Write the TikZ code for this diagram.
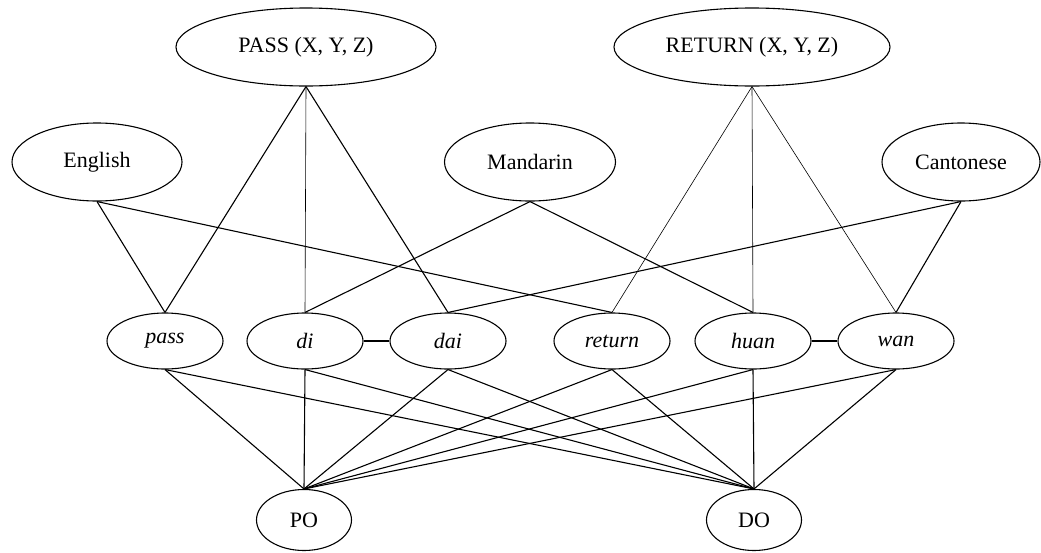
\documentclass[tikz,border=0pt]{standalone}
\usepackage{fontspec}
\setmainfont{Liberation Serif}
\usetikzlibrary{shapes.geometric}
\begin{document}
\begin{tikzpicture}[x=1pt,y=-1pt,
  ell/.style={draw, ellipse, inner sep=0pt, line width=1.1pt, font=\fontsize{22}{26}\selectfont},
  top/.style={ell, minimum height=78pt},
  lang/.style={ell, minimum height=78pt},
  wrd/.style={ell, minimum width=116pt, minimum height=56pt, font=\fontsize{22}{26}\selectfont\itshape},
  gram/.style={ell, minimum width=95pt, minimum height=61pt},
  conn/.style={line width=1.1pt},
  thinconn/.style={line width=0.6pt}]
\useasboundingbox (0,0) rectangle (1041,552);
% top predicates
\node[top, minimum width=260pt] (PASS) at (306,47) {PASS (X, Y, Z)};
\node[top, minimum width=276pt] (RET) at (752,47) {RETURN (X, Y, Z)};
% languages
\node[lang, minimum width=170pt] (Eng) at (97,162) {English};
\node[lang, minimum width=171pt] (Man) at (530,162) {Mandarin};
\node[lang, minimum width=158pt] (Can) at (961,162) {Cantonese};
% words
\node[wrd] (pass) at (165,341) {pass};
\node[wrd] (di) at (305,341) {di};
\node[wrd] (dai) at (448,341) {dai};
\node[wrd] (return) at (612,341) {return};
\node[wrd] (huan) at (753,341) {huan};
\node[wrd] (wan) at (896,341) {wan};
% constructions
\node[gram] (PO) at (304,520) {PO};
\node[gram] (DO) at (754,520) {DO};
% predicate links
\draw[conn] (PASS.south) -- (pass.north);
\draw[thinconn] (PASS.south) -- (di.north);
\draw[conn] (PASS.south) -- (dai.north);
\draw[thinconn] (RET.south) -- (return.north);
\draw[thinconn] (RET.south) -- (huan.north);
\draw[thinconn] (RET.south) -- (wan.north);
% language links
\draw[conn] (Eng.south) -- (pass.north);
\draw[conn] (Eng.south) -- (return.north);
\draw[conn] (Man.south) -- (di.north);
\draw[conn] (Man.south) -- (huan.north);
\draw[conn] (Can.south) -- (dai.north);
\draw[conn] (Can.south) -- (wan.north);
% word pairs
\draw[conn] (di.east) -- (dai.west);
\draw[conn] (huan.east) -- (wan.west);
% construction links
\foreach \w in {pass,di,dai,return,huan,wan}{
  \draw[conn] (\w.south) -- (PO.north);
  \draw[conn] (\w.south) -- (DO.north);
}
\end{tikzpicture}
\end{document}
